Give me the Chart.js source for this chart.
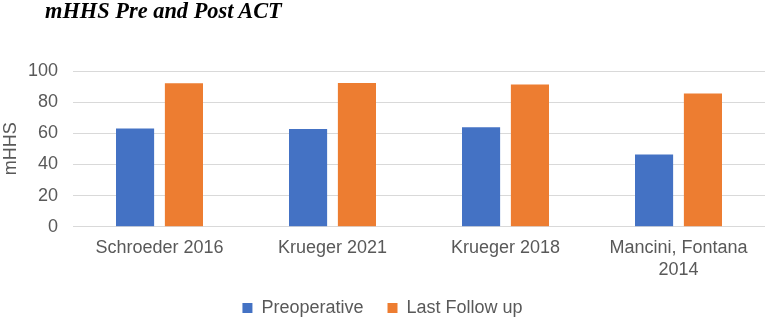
<!DOCTYPE html>
<html>
<head>
<meta charset="utf-8">
<script src="https://cdn.jsdelivr.net/npm/chart.js@4/dist/chart.umd.min.js"></script>
<style>
  html, body { margin: 0; padding: 0; background: #fff; }
  #wrap { position: relative; width: 767px; height: 320px; }
  #title { position: absolute; left: 45px; top: 0px; font: bold italic 22.4px/22px "Liberation Serif", "Times New Roman", serif; color: #000; white-space: nowrap; }
  canvas { position: absolute; left: 0; top: 0; }
</style>
</head>
<body>
<div id="wrap">
  <canvas id="c" width="767" height="320"></canvas>
  <div id="title">mHHS Pre and Post ACT</div>
</div>
<script>
const categories = [["Schroeder 2016"], ["Krueger 2021"], ["Krueger 2018"], ["Mancini, Fontana", "2014"]];
const preoperative = [63.1, 62.8, 63.9, 46.4];
const lastFollowUp = [92.1, 92.3, 91.3, 85.5];
const yTicks = [0, 20, 40, 60, 80, 100];

const textColor = '#595959';
const fontFamily = '"Liberation Sans", Arial, sans-serif';

new Chart(document.getElementById('c'), {
  type: 'bar',
  data: {
    labels: categories,
    datasets: [
      { label: 'Preoperative', data: preoperative, backgroundColor: '#4472C4', categoryPercentage: 0.565, barPercentage: 0.78 },
      { label: 'Last Follow up', data: lastFollowUp, backgroundColor: '#ED7D31', categoryPercentage: 0.565, barPercentage: 0.78 }
    ]
  },
  options: {
    responsive: false,
    animation: false,
    layout: { padding: { top: 71, right: 2, bottom: 0, left: 0 } },
    plugins: {
      title: { display: false },
      tooltip: { enabled: false },
      legend: {
        position: 'bottom',
        maxHeight: 45,
        labels: { color: textColor, font: { family: fontFamily, size: 18 }, boxWidth: 10, boxHeight: 10, padding: 24 }
      }
    },
    scales: {
      x: {
        grid: { display: false, drawTicks: false },
        border: { display: false },
        ticks: { color: textColor, font: { family: fontFamily, size: 18 }, padding: 11, maxRotation: 0, autoSkip: false },
        afterFit: (s) => { s.height = 48.3; }
      },
      y: {
        min: 0, max: 100,
        afterBuildTicks: (s) => { s.ticks = yTicks.map(v => ({ value: v })); },
        grid: { color: '#d9d9d9', lineWidth: 1, drawTicks: false },
        border: { display: false },
        ticks: { color: textColor, font: { family: fontFamily, size: 18 }, padding: 15 },
        title: { display: true, text: 'mHHS', color: textColor, font: { family: fontFamily, size: 18 }, padding: 0 },
        afterFit: (s) => { s.width = 73; }
      }
    }
  }
});
</script>
</body>
</html>
